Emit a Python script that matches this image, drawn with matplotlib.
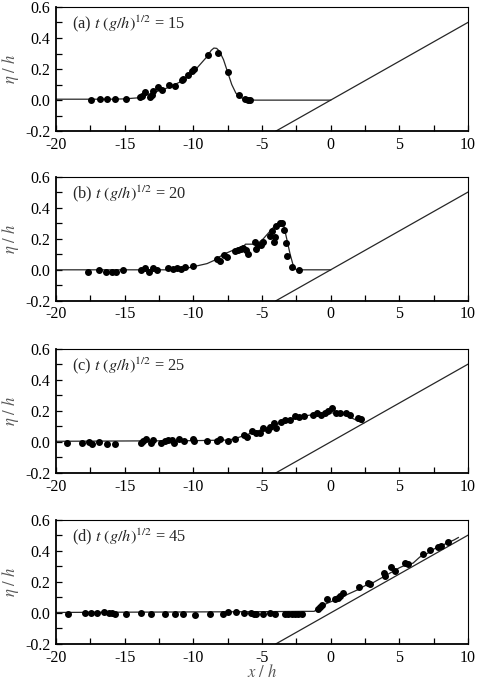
import numpy as np
import matplotlib.pyplot as plt
from matplotlib.ticker import MultipleLocator

plt.rcParams['font.family'] = ['Liberation Serif', 'DejaVu Serif']
plt.rcParams['mathtext.fontset'] = 'stix'
plt.rcParams['axes.unicode_minus'] = False

# measured points and model curves, (a) t=15
xa = [-17.48, -16.80, -16.31, -15.70, -14.90, -13.88, -13.76, -13.52, -13.16, -13.03,
      -12.91, -12.55, -12.31, -11.75, -11.34, -10.85, -10.78, -10.42, -10.06, -9.93,
      -8.92, -8.19, -7.51, -6.68, -6.20, -6.00, -5.88]
ya = [0.004, 0.006, 0.006, 0.006, 0.006, 0.019, 0.026, 0.053, 0.019, 0.034,
      0.058, 0.083, 0.062, 0.098, 0.088, 0.130, 0.139, 0.164, 0.186, 0.201,
      0.293, 0.303, 0.184, 0.034, 0.006, 0.002, 0.002]
cxa = [-20, -16, -15, -14, -13, -12, -11, -10, -9.5, -9, -8.7, -8.5, -8.3, -8.1,
       -7.8, -7.5, -7.2, -6.9, -6.5, -6, -5.5, 0]
cya = [0.006, 0.006, 0.008, 0.015, 0.045, 0.075, 0.115, 0.18, 0.23, 0.28, 0.32,
       0.335, 0.333, 0.315, 0.26, 0.18, 0.1, 0.045, 0.015, 0.003, 0.0, 0.0]

# (b) t=20
xb = [-17.65, -16.87, -16.36, -15.95, -15.66, -15.10, -13.84, -13.52, -13.23, -12.96,
      -12.67, -11.87, -11.51, -11.22, -10.90, -10.61, -10.05, -8.30, -8.06, -7.77,
      -7.58, -6.93, -6.73, -6.56, -6.41, -6.13, -6.00, -5.49, -5.40, -5.28,
      -5.08, -4.91, -4.38, -4.14, -4.26, -4.07, -4.00, -3.71, -3.52, -3.42,
      -3.23, -3.16, -2.82, -2.31]
yb = [-0.015, 0.002, -0.011, -0.015, -0.015, 0.002, 0.0, 0.011, -0.017, 0.013,
      0.002, 0.013, 0.007, 0.013, 0.004, 0.015, 0.024, 0.072, 0.054, 0.093,
      0.083, 0.12, 0.126, 0.137, 0.141, 0.126, 0.104, 0.176, 0.137, 0.159,
      0.159, 0.176, 0.217, 0.176, 0.25, 0.213, 0.285, 0.30, 0.304, 0.257,
      0.17, 0.089, 0.017, -0.004]
cxb = [-20, -11, -10.5, -10, -9, -8.5, -7.8, -7.0, -6.3, -6.2, -5.5, -5.3, -4.9,
       -4.4, -4.0, -3.75, -3.55, -3.4, -3.2, -2.95, -2.7, -2.5, 0]
cyb = [0.0, 0.0, 0.01, 0.02, 0.04, 0.06, 0.10, 0.13, 0.155, 0.165, 0.165, 0.17,
       0.2, 0.25, 0.29, 0.305, 0.305, 0.28, 0.2, 0.1, 0.02, 0.0, 0.0]

# (c) t=25
xc = [-19.22, -18.13, -17.57, -17.40, -16.85, -16.26, -15.70, -13.84, -13.64, -13.47,
      -13.11, -12.91, -12.38, -12.06, -11.82, -11.58, -11.38, -11.02, -10.66, -10.05,
      -9.93, -8.98, -8.30, -8.06, -7.45, -6.97, -6.29, -6.07, -5.71, -5.40,
      -5.16, -4.91, -4.55, -4.43, -4.14, -3.95, -3.59, -3.34, -2.97, -2.61,
      -2.29, -1.95, -1.28, -0.96, -0.67, -0.38, -0.18, 0.11, 0.42, 0.67,
      1.15, 1.39, 2.00, 2.24]
yc = [-0.009, -0.009, -0.002, -0.013, 0.002, -0.015, -0.011, -0.006, 0.006, 0.017,
      -0.009, 0.013, -0.004, 0.006, 0.015, 0.013, -0.009, 0.017, 0.006, 0.019,
      0.009, 0.006, 0.006, 0.019, 0.009, 0.019, 0.045, 0.034, 0.073, 0.06,
      0.06, 0.088, 0.077, 0.099, 0.12, 0.088, 0.127, 0.142, 0.142, 0.168,
      0.163, 0.168, 0.174, 0.189, 0.174, 0.189, 0.2, 0.217, 0.189, 0.189,
      0.185, 0.174, 0.157, 0.146]
cxc = [-20, -10, -7.5, -7, -6.5, -6, -5, -4, -3, -2, -1, 0, 0.5, 1, 1.5, 2, 2.4]
cyc = [0.004, 0.008, 0.012, 0.02, 0.035, 0.05, 0.08, 0.11, 0.14, 0.165, 0.18,
       0.187, 0.186, 0.175, 0.155, 0.135, 0.12]

# (d) t=45
xd = [-19.10, -17.89, -17.48, -16.99, -16.48, -16.14, -15.95, -15.70, -14.93, -13.84,
      -13.11, -12.07, -11.34, -10.78, -9.89, -8.79, -7.87, -7.45, -6.90, -6.32,
      -5.83, -5.59, -5.40, -4.91, -4.43, -4.07, -3.34, -3.09, -2.85, -2.61,
      -2.37, -2.12, -0.91, -0.74, -0.60, -0.26, 0.30, 0.54, 0.67, 0.91,
      2.05, 2.73, 2.85, 3.89, 3.94, 4.42, 4.67, 5.39, 5.64, 6.73,
      7.21, 7.82, 8.06, 8.55]
yd = [-0.004, 0.0, 0.0, 0.002, 0.004, 0.002, 0.0, -0.004, -0.004, 0.0,
      -0.004, -0.006, -0.009, -0.004, -0.011, -0.009, -0.004, 0.006, 0.006, 0.002,
      0.0, -0.004, -0.004, -0.004, 0.0, -0.004, -0.004, -0.004, -0.004, -0.004,
      -0.004, -0.004, 0.028, 0.039, 0.054, 0.089, 0.089, 0.099, 0.11, 0.13,
      0.164, 0.194, 0.186, 0.255, 0.238, 0.294, 0.272, 0.324, 0.315, 0.38,
      0.402, 0.421, 0.432, 0.456]
cxd = [-20, -5, -2, -1.2, -0.8, -0.3, 0.5, 1, 1.5, 2, 2.5, 3, 3.5, 4, 4.5, 5,
       5.5, 6, 6.5, 7, 7.5, 8, 8.5, 9, 9.3]
cyd = [0.003, 0.008, 0.01, 0.01, 0.035, 0.06, 0.09, 0.11, 0.13, 0.15, 0.175,
       0.19, 0.215, 0.24, 0.265, 0.29, 0.31, 0.32, 0.36, 0.38, 0.41, 0.43,
       0.45, 0.47, 0.485]

# beach slope 1:20
beach_x = [-4, 10]
beach_y = [-0.2, 0.5]

panels = [
    ('(a)', '15', xa, ya, cxa, cya),
    ('(b)', '20', xb, yb, cxb, cyb),
    ('(c)', '25', xc, yc, cxc, cyc),
    ('(d)', '45', xd, yd, cxd, cyd),
]
bottoms = [0.809, 0.562, 0.3115, 0.0626]

fig = plt.figure(figsize=(4.81, 6.87), dpi=100)
for i, (tag, tval, px, py, cx, cy) in enumerate(panels):
    ax = fig.add_axes([0.1164, bottoms[i], 0.8565, 0.181])
    ax.plot(cx, cy, color='0.15', lw=0.9)
    ax.plot(beach_x, beach_y, color='0.15', lw=0.9)
    ax.plot(px, py, 'o', color='black', ms=4.0, mec='black')
    ax.set_xlim(-20, 10)
    ax.set_ylim(-0.2, 0.6)
    ax.xaxis.set_major_locator(MultipleLocator(5))
    ax.xaxis.set_minor_locator(MultipleLocator(2.5))
    ax.yaxis.set_major_locator(MultipleLocator(0.2))
    ax.yaxis.set_minor_locator(MultipleLocator(0.1))
    ax.yaxis.set_major_formatter(plt.FormatStrFormatter('%.1f'))
    ax.tick_params(which='both', direction='in', length=4, width=0.9,
                   labelsize=11.5, pad=4, top=False, right=False)
    for s in ['left', 'bottom']:
        ax.spines[s].set_linewidth(1.3)
    for s in ['top', 'right']:
        ax.spines[s].set_linewidth(0.8)
    ax.set_ylabel(r'$\eta\ /\ h$', fontsize=12, color='0.35', labelpad=3)
    ax.text(0.04, 0.865, tag + r' $t\ (g/h)^{1/2}$ = ' + tval,
            transform=ax.transAxes, fontsize=11.8, va='center', ha='left',
            color='0.15')
    if i == 3:
        ax.set_xlabel(r'$x\ /\ h$', fontsize=12, color='0.35', labelpad=-1)

fig.savefig('out.png', dpi=100)
